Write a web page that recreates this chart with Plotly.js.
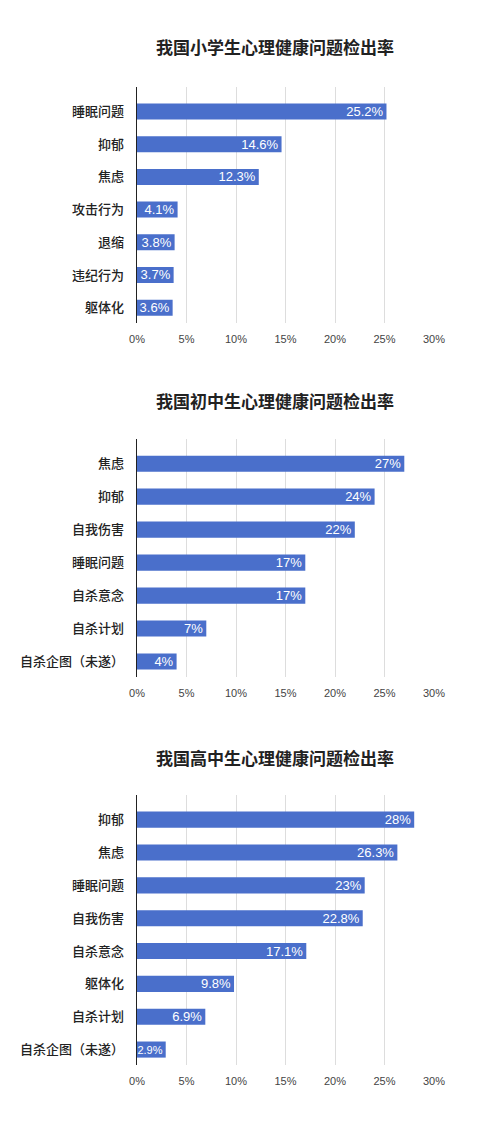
<!DOCTYPE html>
<html>
<head>
<meta charset="utf-8">
<script src="https://cdn.plot.ly/plotly-3.0.1.min.js"></script>
<style>
  html, body { margin: 0; padding: 0; background: #fff; }
  #plot { width: 500px; height: 1134px; }
</style>
</head>
<body>
<div id="plot"></div>
<script>
// chart titles
const titles = [
    '我国小学生心理健康问题检出率',
    '我国初中生心理健康问题检出率',
    '我国高中生心理健康问题检出率'
];

// primary school
const primaryCats = ['睡眠问题', '抑郁', '焦虑', '攻击行为', '退缩', '违纪行为', '躯体化'];
const primaryVals = [25.2, 14.6, 12.3, 4.1, 3.8, 3.7, 3.6];
const primaryText = ['25.2%', '14.6%', '12.3%', '4.1%', '3.8%', '3.7%', '3.6%'];

// junior high
const juniorCats = ['焦虑', '抑郁', '自我伤害', '睡眠问题', '自杀意念', '自杀计划', '自杀企图（未遂）'];
const juniorVals = [27, 24, 22, 17, 17, 7, 4];
const juniorText = ['27%', '24%', '22%', '17%', '17%', '7%', '4%'];

// senior high
const seniorCats = ['抑郁', '焦虑', '睡眠问题', '自我伤害', '自杀意念', '躯体化', '自杀计划', '自杀企图（未遂）'];
const seniorVals = [28, 26.3, 23, 22.8, 17.1, 9.8, 6.9, 2.9];
const seniorText = ['28%', '26.3%', '23%', '22.8%', '17.1%', '9.8%', '6.9%', '2.9%'];

const xTickVals = [0, 5, 10, 15, 20, 25, 30];
const xTickText = ['0%', '5%', '10%', '15%', '20%', '25%', '30%'];

const barColor = '#4a6fcb';
const fontFamily = '"Liberation Sans", Arial, "Noto Sans CJK SC", sans-serif';
const cjkFont = '"Noto Sans CJK SC", sans-serif';

function barTrace(cats, vals, text, n) {
    // very short bars get a slightly smaller label so it stays inside
    const sizes = vals.map(v => (v < 3.5 ? 11 : 13));
    return {
        type: 'bar',
        orientation: 'h',
        y: cats,
        x: vals,
        text: text,
        textposition: 'inside',
        insidetextanchor: 'end',
        textangle: 0,
        constraintext: 'none',
        cliponaxis: false,
        insidetextfont: { color: '#ffffff', size: sizes, family: fontFamily },
        marker: { color: barColor },
        xaxis: n === 1 ? 'x' : 'x' + n,
        yaxis: n === 1 ? 'y' : 'y' + n,
        hoverinfo: 'none',
        showlegend: false
    };
}

function xAxis(domainY, anchor) {
    return {
        domain: [0.274, 0.868],
        anchor: anchor,
        range: [0, 30],
        tickvals: xTickVals,
        ticktext: xTickText,
        showgrid: true,
        gridcolor: '#dddddd',
        gridwidth: 1,
        zeroline: false,
        showline: false,
        ticks: 'outside',
        ticklen: 6,
        tickcolor: 'rgba(0,0,0,0)',
        tickfont: { size: 11, color: '#444444', family: fontFamily },
        fixedrange: true
    };
}

function yAxis(domainY, anchor, count) {
    return {
        domain: domainY,
        anchor: anchor,
        type: 'category',
        range: [count - 1 + 0.47, -0.75],
        showline: true,
        linecolor: '#222222',
        linewidth: 1.5,
        showgrid: false,
        zeroline: false,
        ticks: 'outside',
        ticklen: 9,
        tickcolor: 'rgba(0,0,0,0)',
        tickfont: { size: 13, color: '#222222', family: cjkFont, weight: 500 },
        fixedrange: true
    };
}

const dom1 = [1 - 323 / 1134, 1 - 87 / 1134];
const dom2 = [1 - 677 / 1134, 1 - 439 / 1134];
const dom3 = [1 - 1065 / 1134, 1 - 795 / 1134];

const layout = {
    width: 500,
    height: 1134,
    margin: { l: 0, r: 0, t: 0, b: 0 },
    paper_bgcolor: '#ffffff',
    plot_bgcolor: '#ffffff',
    bargap: 0.51,
    font: { family: fontFamily },
    xaxis: xAxis(dom1, 'y'),
    yaxis: yAxis(dom1, 'x', primaryCats.length),
    xaxis2: xAxis(dom2, 'y2'),
    yaxis2: yAxis(dom2, 'x2', juniorCats.length),
    xaxis3: xAxis(dom3, 'y3'),
    yaxis3: yAxis(dom3, 'x3', seniorCats.length),
    annotations: [46, 401, 757].map((py, i) => ({
        text: '<b>' + titles[i] + '</b>',
        xref: 'paper',
        yref: 'paper',
        x: 274.5 / 500,
        y: 1 - py / 1134,
        xanchor: 'center',
        yanchor: 'middle',
        showarrow: false,
        font: { size: 17, color: '#222222', family: cjkFont }
    }))
};

const config = {
    displayModeBar: false,
    staticPlot: true
};

const plotData = [
    barTrace(primaryCats, primaryVals, primaryText, 1),
    barTrace(juniorCats, juniorVals, juniorText, 2),
    barTrace(seniorCats, seniorVals, seniorText, 3)
];
Plotly.newPlot('plot', plotData, layout, config);
</script>
</body>
</html>
